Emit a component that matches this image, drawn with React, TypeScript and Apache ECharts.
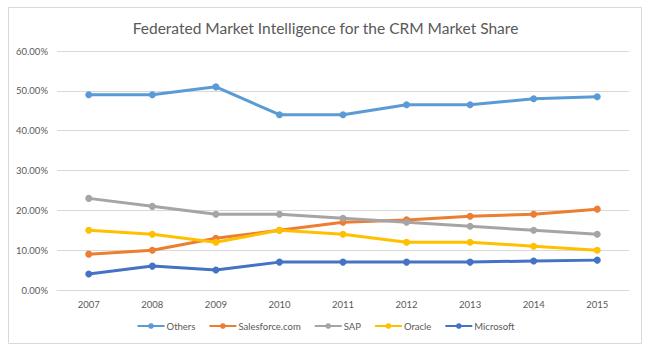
import React, { useEffect, useRef } from "react";
import * as echarts from "echarts";

const years = ["2007", "2008", "2009", "2010", "2011", "2012", "2013", "2014", "2015"];
const others = [49, 49, 51, 44, 44, 46.5, 46.5, 48, 48.5];
const salesforce = [9, 10, 13, 15, 17, 17.6, 18.5, 19, 20.3];
const sap = [23, 21, 19, 19, 18, 17, 16, 15, 14];
const oracle = [15, 14, 12, 15, 14, 12, 12, 11, 10];
const microsoft = [4, 6, 5, 7, 7, 7, 7, 7.3, 7.5];

const seriesNames = ["Others", "Salesforce.com", "SAP", "Oracle", "Microsoft"];
const seriesData = [others, salesforce, sap, oracle, microsoft];
const colors = ["#5B9BD5", "#ED7D31", "#A5A5A5", "#FFC000", "#4472C4"];

const FONT = "Lato, 'Open Sans', sans-serif";

export default function App() {
  const ref = useRef<HTMLDivElement>(null);
  useEffect(() => {
    document.body.style.margin = "0";
    const chart = echarts.init(ref.current!, null, { renderer: "svg" });
    chart.setOption({
      animation: false,
      backgroundColor: "#ffffff",
      color: colors,
      textStyle: { fontFamily: FONT },
      title: {
        text: "Federated Market Intelligence for the CRM Market Share",
        left: "center",
        top: 15,
        textStyle: { fontFamily: FONT, fontSize: 15.5, fontWeight: "normal", color: "#595959" },
      },
      graphic: [
        {
          type: "rect",
          shape: { x: 8.5, y: 7.5, width: 633, height: 336 },
          style: { fill: "none", stroke: "#D9D9D9", lineWidth: 1 },
          z: -1,
        },
      ],
      legend: {
        top: 316,
        left: "center",
        itemWidth: 27,
        itemHeight: 7,
        itemGap: 13,
        textStyle: { fontFamily: FONT, fontSize: 9.5, color: "#595959", padding: [0, 0, 0, -3] },
        data: seriesNames,
      },
      grid: { left: 57, right: 22, top: 51, bottom: 64 },
      xAxis: {
        type: "category",
        data: years,
        boundaryGap: true,
        axisLine: { show: true, lineStyle: { color: "#D9D9D9" } },
        axisTick: { show: false },
        axisLabel: { color: "#595959", fontSize: 9.5, fontFamily: FONT, margin: 9 },
      },
      yAxis: {
        type: "value",
        min: 0,
        max: 60,
        interval: 10,
        axisLine: { show: false },
        axisTick: { show: false },
        splitLine: { lineStyle: { color: "#D9D9D9" } },
        axisLabel: {
          color: "#595959",
          fontSize: 9.5,
          fontFamily: FONT,
          margin: 9,
          formatter: (v: number) => v.toFixed(2) + "%",
        },
      },
      series: seriesNames.map((name, i) => ({
        name,
        type: "line",
        data: seriesData[i],
        symbol: "circle",
        symbolSize: 7,
        lineStyle: { width: 3, color: colors[i] },
        itemStyle: { color: colors[i] },
      })),
    });
    return () => chart.dispose();
  }, []);
  return <div ref={ref} style={{ width: 651, height: 354 }} />;
}
